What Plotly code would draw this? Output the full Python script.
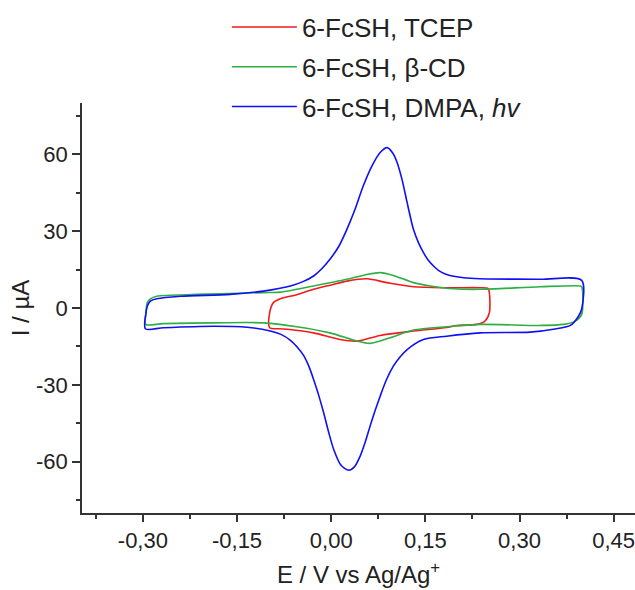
import plotly.graph_objects as go

# ---- data (E in V vs Ag/Ag+, I in µA), closed CV loops ----
tcep_E = [-0.098, -0.098, -0.092, -0.081, -0.055, -0.028, 0.000, 0.025, 0.057, 0.089, 0.131, 0.184, 0.237, 0.250, 0.252,
          0.252, 0.245, 0.232, 0.200, 0.184, 0.131, 0.078, 0.041, 0.014, -0.028, -0.060, -0.081, -0.098]
tcep_I = [-7.7, -1.8, 2.1, 3.6, 5.2, 7.3, 9.0, 10.5, 11.4, 9.9, 8.3, 7.9, 7.9, 7.6, 6.0,
          -1.8, -5.1, -6.4, -6.8, -7.6, -9.0, -10.7, -12.9, -12.3, -9.7, -8.6, -8.1, -7.7]

bcd_E = [-0.296, -0.295, -0.293, -0.288, -0.278, -0.214, -0.108, -0.081, -0.028, 0.025, 0.057, 0.078, 0.099, 0.131, 0.158, 0.195, 0.237, 0.333, 0.396, 0.399,
         0.399, 0.389, 0.370, 0.333, 0.237, 0.184, 0.131, 0.094, 0.062, 0.041, -0.002, -0.055, -0.108, -0.187, -0.267, -0.296]
bcd_I = [-6.4, -2.0, 2.1, 3.6, 4.6, 5.3, 6.0, 6.2, 8.6, 11.2, 13.1, 13.8, 12.7, 9.9, 8.6, 7.5, 7.3, 8.3, 8.6, 8.3,
         -2.5, -5.1, -6.4, -6.8, -6.4, -7.3, -8.6, -11.6, -13.8, -12.9, -9.7, -7.3, -5.8, -5.8, -6.1, -6.4]

dmpa_E = [-0.296, -0.295, -0.293, -0.288, -0.278, -0.240, -0.161, -0.108, -0.065, -0.045, -0.028, -0.015, -0.002, 0.012, 0.025,
          0.038, 0.051, 0.065, 0.078, 0.089, 0.098, 0.105, 0.113, 0.121, 0.131, 0.139, 0.147, 0.155, 0.163, 0.172, 0.184,
          0.211, 0.237, 0.333, 0.399,
          0.399, 0.394, 0.381, 0.359, 0.317, 0.237, 0.184, 0.147, 0.121, 0.110, 0.099, 0.088, 0.078, 0.070, 0.062, 0.054,
          0.046, 0.037, 0.028, 0.016, 0.004, -0.004, -0.012, -0.020, -0.028, -0.036, -0.044, -0.055, -0.065, -0.080, -0.097, -0.134,
          -0.187, -0.267, -0.296]
dmpa_I = [-8.1, -1.8, 0.7, 2.7, 3.6, 4.6, 5.3, 6.6, 8.6, 10.3, 12.5, 15.3, 19.0, 24.0, 30.7,
          38.5, 47.6, 55.5, 60.7, 62.6, 60.5, 56.8, 50.0, 41.1, 30.7, 25.5, 21.6, 18.5, 16.4, 14.5, 13.1,
          11.8, 11.4, 11.2, 10.8,
          -0.5, -3.2, -6.8, -8.1, -9.4, -9.7, -11.0, -12.3, -16.2, -19.0, -22.7, -28.0, -34.4, -40.0, -46.1, -52.5,
          -57.9, -62.0, -63.3, -61.5, -55.2, -48.5, -40.9, -34.0, -27.9, -22.5, -18.5, -15.0, -12.6, -10.3, -9.0, -7.5,
          -7.1, -7.7, -8.1]

series_names = ["6-FcSH, TCEP", "6-FcSH, β-CD", "6-FcSH, DMPA, <i>hv</i>"]

x_tickvals = [-0.30, -0.15, 0.00, 0.15, 0.30, 0.45]
x_ticktext = ["-0,30", "-0,15", "0,00", "0,15", "0,30", "0,45"]
x_minorvals = [-0.375, -0.225, -0.075, 0.075, 0.225, 0.375]
y_tickvals = [-60, -30, 0, 30, 60]
y_ticktext = ["-60", "-30", "0", "30", "60"]
y_minorvals = [-75, -45, -15, 15, 45, 75]

colors = ["#F21A1A", "#2EAF44", "#1010F5"]
FONT = "Liberation Sans, Arial, sans-serif"

fig = go.Figure()
for i, (E, I) in enumerate([(tcep_E, tcep_I), (bcd_E, bcd_I), (dmpa_E, dmpa_I)]):
    fig.add_trace(go.Scatter(
        x=E, y=I, mode="lines", name=series_names[i], legendgroup=str(i),
        line=dict(color=colors[i], width=1.6, shape="spline", smoothing=0.8),
    ))

fig.update_layout(
    width=635, height=590,
    margin=dict(l=82, r=0, t=103, b=77, autoexpand=False),
    paper_bgcolor="white", plot_bgcolor="white",
    font=dict(family=FONT, size=22, color="#222"),
    showlegend=True,
    legend=dict(x=0.262, y=0.994, xref="paper", yref="container", xanchor="left", yanchor="top",
                bgcolor="rgba(0,0,0,0)", font=dict(size=26, family=FONT, color="#222"),
                itemwidth=65, tracegroupgap=3),
)
fig.update_xaxes(
    range=[-0.397, 0.484], showgrid=False, zeroline=False,
    showline=True, linecolor="#333", linewidth=1.5, mirror=False,
    tickmode="array", tickvals=x_tickvals, ticktext=x_ticktext, ticklabeloverflow="allow",
    tickfont=dict(size=22),
    ticks="outside", ticklen=7, tickwidth=1.5, tickcolor="#333",
    minor=dict(tickmode="array", tickvals=x_minorvals, ticks="outside", ticklen=4, tickwidth=1.5, tickcolor="#333"),
    title=dict(text="E / V vs Ag/Ag<sup>+</sup>", font=dict(size=24, family=FONT, color="#222"), standoff=14),
)
fig.update_yaxes(
    range=[-80, 80], showgrid=False, zeroline=False,
    showline=True, linecolor="#333", linewidth=1.5, mirror=False,
    tickmode="array", tickvals=y_tickvals, ticktext=y_ticktext,
    tickfont=dict(size=22),
    ticks="outside", ticklen=8, tickwidth=1.5, tickcolor="#333",
    minor=dict(tickmode="array", tickvals=y_minorvals, ticks="outside", ticklen=4, tickwidth=1.5, tickcolor="#333"),
    title=dict(text="I / µA", font=dict(size=24, family=FONT, color="#222"), standoff=0),
)

fig.write_html("out.html", config={"displayModeBar": False},
               post_script="document.body.style.margin='0px';document.body.style.overflow='hidden';")
